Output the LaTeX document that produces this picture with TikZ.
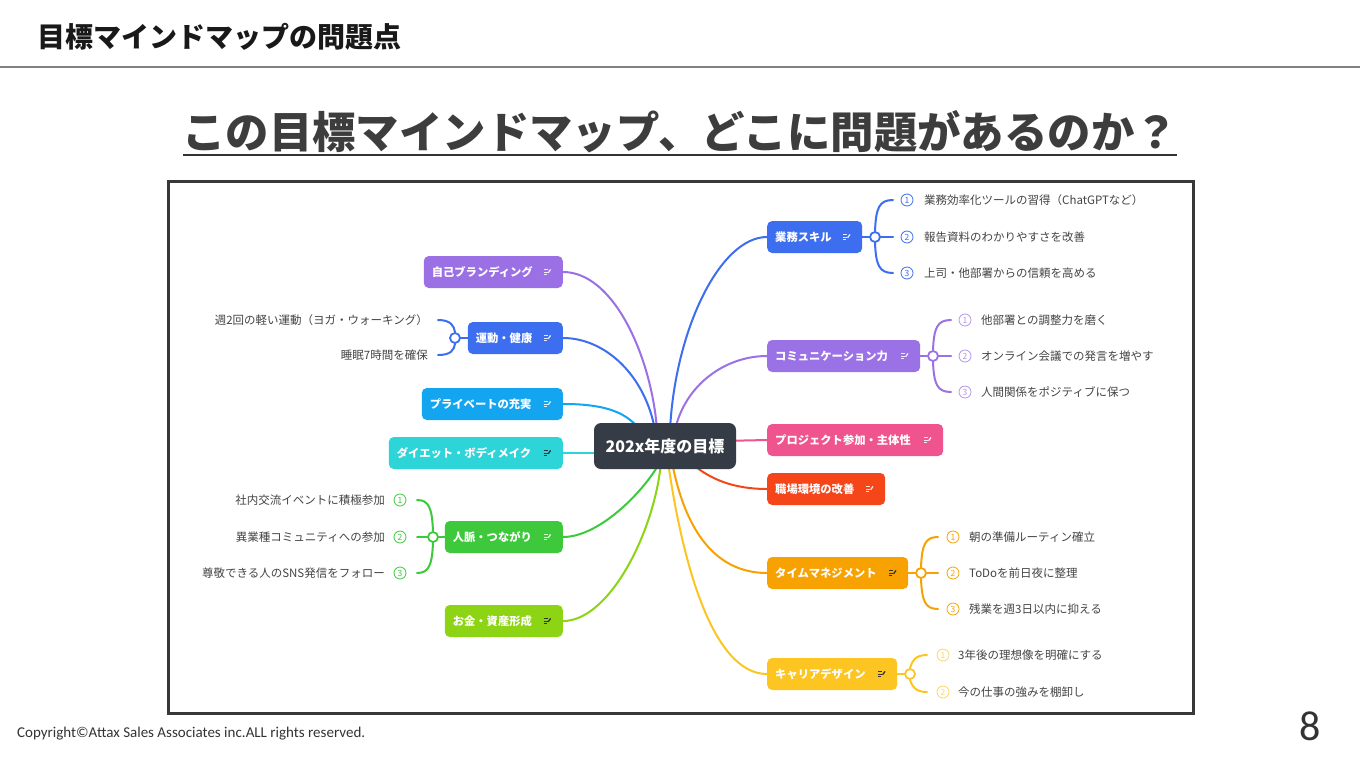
\documentclass[tikz,border=0pt]{standalone}
\usepackage{fontspec}
\setmainfont{Noto Sans CJK JP}
\newfontfamily\calfont{Carlito}
\usetikzlibrary{calc}
\pgfdeclarelayer{back}
\pgfdeclarelayer{bg}
\pgfsetlayers{back,bg,main}
\definecolor{cCtr}{HTML}{353C46}
\definecolor{cBrand}{HTML}{9C70E5}
\definecolor{cBlue}{HTML}{3D6EF0}
\definecolor{cPriv}{HTML}{14A5F0}
\definecolor{cDiet}{HTML}{2DD4D8}
\definecolor{cGreen}{HTML}{3EC93C}
\definecolor{cLime}{HTML}{8CD414}
\definecolor{cComm}{HTML}{9B72E6}
\definecolor{cPink}{HTML}{F0548E}
\definecolor{cRed}{HTML}{F5461A}
\definecolor{cOrange}{HTML}{F7A200}
\definecolor{cYellow}{HTML}{FCC521}
\definecolor{txtgray}{HTML}{444444}
\definecolor{dark}{HTML}{333333}
\begin{document}
\begin{tikzpicture}[x=1pt,y=-1pt,
  box/.style={rounded corners=5pt, minimum height=32pt, inner xsep=8pt, inner ysep=0pt,
    text=white, font=\fontsize{11.3}{12}\selectfont\bfseries, align=left},
  sub/.style={font=\fontsize{11.5}{12}\selectfont, text=txtgray, inner sep=0pt},
  num/.style={circle, draw, line width=0.8pt, minimum size=12pt, inner sep=0pt, font=\fontsize{8.5}{8.5}\selectfont},
  link/.style={line width=2pt, line cap=round},
  jn/.style={circle, draw, fill=white, line width=1.8pt, minimum size=10pt, inner sep=0pt},
  ico/.pic={\draw[line width=0.8pt] (-3.5,-2.5)--(1,-2.5) (-3.5,0)--(1,0) (-3.5,2.5)--(0,2.5);
            \draw[line width=1.3pt] (1.2,0.8)--(3.6,-2.6);}
]
\useasboundingbox (0,0) rectangle (1360,766);
\begin{pgfonlayer}{back}
\fill[white] (0,0) rectangle (1360,766);
\end{pgfonlayer}

% header
\node[anchor=west, inner sep=0pt, font=\fontsize{28}{28}\selectfont\bfseries, text=black!90] (ttl) at (37,37) {目標マインドマップの問題点};
\draw[line width=1.5pt, black!50] (0,67) -- (1360,67);
\node[inner sep=0pt, font=\fontsize{43.4}{44}\selectfont\bfseries, text=dark!95] (hl) at (680,132) {この目標マインドマップ、どこに問題があるのか？};
\draw[line width=2pt, dark] (183,155) -- (1177,155);

% frame
\draw[line width=3pt, black!78] (168,181) rectangle (1193,713);

% center
\node[fill=cCtr, rounded corners=7pt, minimum width=142pt, minimum height=46pt, inner sep=0pt,
  text=white, font=\fontsize{16}{16}\selectfont\bfseries] (ctr) at (665,446) {202x年度の目標};

% left nodes
\node[box, fill=cBrand, text width=123pt, anchor=east] (brand) at (563,272) {自己ブランディング};
\node[box, fill=cBlue, text width=79pt, anchor=east] (undo) at (563,338) {運動・健康};
\node[box, fill=cPriv, text width=125pt, anchor=east] (priv) at (563,404) {プライベートの充実};
\node[box, fill=cDiet, text width=158pt, anchor=east] (diet) at (563,453) {ダイエット・ボディメイク};
\node[box, fill=cGreen, text width=102pt, anchor=east] (jin) at (563,537) {人脈・つながり};
\node[box, fill=cLime, text width=102pt, anchor=east] (okane) at (563,621) {お金・資産形成};
% right nodes
\node[box, fill=cBlue, text width=79pt, anchor=west] (gyomu) at (767,237) {業務スキル};
\node[box, fill=cComm, text width=137pt, anchor=west] (comm) at (767,356) {コミュニケーション力};
\node[box, fill=cPink, text width=160pt, anchor=west] (proj) at (767,440) {プロジェクト参加・主体性};
\node[box, fill=cRed, text width=102pt, anchor=west] (shoku) at (767,489) {職場環境の改善};
\node[box, fill=cOrange, text width=125pt, anchor=west] (time) at (767,573) {タイムマネジメント};
\node[box, fill=cYellow, text width=114pt, anchor=west] (career) at (767,674) {キャリアデザイン};

% icons
\foreach \n in {brand,undo,priv,jin,gyomu,comm,proj,shoku}
  \pic[white, opacity=0.85] at ($(\n.east)+(-16,0)$) {ico};
\foreach \n in {diet,okane,time,career}
  \pic[dark] at ($(\n.east)+(-16,0)$) {ico};

% junctions
\node[jn, draw=cBlue] (jg) at (875,237) {};
\node[jn, draw=cComm] (jc) at (933,356) {};
\node[jn, draw=cOrange] (jt) at (921,573) {};
\node[jn, draw=cYellow] (jk) at (910,674) {};
\node[jn, draw=cBlue] (ju) at (455,338) {};
\node[jn, draw=cGreen] (jj) at (433,537) {};

% branch end coordinates
\coordinate (g1) at (893,200); \coordinate (g2) at (893,237); \coordinate (g3) at (893,273);
\coordinate (c1) at (951,320); \coordinate (c2) at (951,356); \coordinate (c3) at (951,392);
\coordinate (t1) at (938,537); \coordinate (t2) at (938,573); \coordinate (t3) at (938,609);
\coordinate (k1) at (927,655); \coordinate (k2) at (927,692);
\coordinate (u1) at (438,320); \coordinate (u2) at (438,355);
\coordinate (n1) at (417,500); \coordinate (n2) at (417,537); \coordinate (n3) at (417,573);

% items right
\node[num, draw=cBlue, text=cBlue] (g1n) at (907,200) {1};
\node[num, draw=cBlue, text=cBlue] (g2n) at (907,237) {2};
\node[num, draw=cBlue, text=cBlue] (g3n) at (907,273) {3};
\node[sub, anchor=west] (g1t) at (924,200) {業務効率化ツールの習得（ChatGPTなど）};
\node[sub, anchor=west] (g2t) at (924,237) {報告資料のわかりやすさを改善};
\node[sub, anchor=west] (g3t) at (924,273) {上司・他部署からの信頼を高める};
\node[num, draw=cComm!75, text=cComm!75] (c1n) at (965,320) {1};
\node[num, draw=cComm!75, text=cComm!75] (c2n) at (965,356) {2};
\node[num, draw=cComm!75, text=cComm!75] (c3n) at (965,392) {3};
\node[sub, anchor=west] (c1t) at (981,320) {他部署との調整力を磨く};
\node[sub, anchor=west] (c2t) at (981,356) {オンライン会議での発言を増やす};
\node[sub, anchor=west] (c3t) at (981,392) {人間関係をポジティブに保つ};
\node[num, draw=cOrange, text=cOrange] (t1n) at (953,537) {1};
\node[num, draw=cOrange, text=cOrange] (t2n) at (953,573) {2};
\node[num, draw=cOrange, text=cOrange] (t3n) at (953,609) {3};
\node[sub, anchor=west] (t1t) at (969,537) {朝の準備ルーティン確立};
\node[sub, anchor=west] (t2t) at (969,573) {ToDoを前日夜に整理};
\node[sub, anchor=west] (t3t) at (969,609) {残業を週3日以内に抑える};
\node[num, draw=cYellow!70, text=cYellow!70] (k1n) at (943,655) {1};
\node[num, draw=cYellow!70, text=cYellow!70] (k2n) at (943,692) {2};
\node[sub, anchor=west] (k1t) at (958,655) {3年後の理想像を明確にする};
\node[sub, anchor=west] (k2t) at (958,692) {今の仕事の強みを棚卸し};
% items left
\node[sub, anchor=east] (u1t) at (428,320) {週2回の軽い運動（ヨガ・ウォーキング）};
\node[sub, anchor=east] (u2t) at (428,355) {睡眠7時間を確保};
\node[num, draw=cGreen, text=cGreen] (n1n) at (400,500) {1};
\node[num, draw=cGreen, text=cGreen] (n2n) at (400,537) {2};
\node[num, draw=cGreen, text=cGreen] (n3n) at (400,573) {3};
\node[sub, anchor=east] (n1t) at (385,500) {社内交流イベントに積極参加};
\node[sub, anchor=east] (n2t) at (385,537) {異業種コミュニティへの参加};
\node[sub, anchor=east] (n3t) at (385,573) {尊敬できる人のSNS発信をフォロー};

% footer
\node[anchor=west, inner sep=0pt, font=\calfont\fontsize{15}{15}\selectfont, text=dark] (copy) at (17,734) {Copyright©Attax Sales Associates inc.ALL rights reserved.};
\node[inner sep=0pt, font=\calfont\fontsize{42}{42}\selectfont, text=dark] (pg) at (1310,726) {8};

% connector endpoints at centre
\coordinate (eBrand) at (657,430); \coordinate (eUndo) at (655,430);
\coordinate (ePriv) at (640,430); \coordinate (eDiet) at (600,453);
\coordinate (eJin) at (660,462); \coordinate (eOk) at (661,462);
\coordinate (eGy) at (670,430); \coordinate (eCo) at (675,430);
\coordinate (ePr) at (720,441); \coordinate (eSh) at (690,462);
\coordinate (eTi) at (672,462); \coordinate (eCa) at (668,462);

\begin{pgfonlayer}{bg}
\draw[link, cBrand] (brand.east) .. controls (615,272) and (652,360) .. (eBrand);
\draw[link, cBlue] (undo.east) .. controls (605,338) and (645,375) .. (eUndo);
\draw[link, cPriv] (priv.east) .. controls (600,404) and (625,410) .. (ePriv);
\draw[link, cDiet] (diet.east) -- (eDiet);
\draw[link, cGreen] (jin.east) .. controls (600,537) and (645,490) .. (eJin);
\draw[link, cLime] (okane.east) .. controls (610,621) and (655,530) .. (eOk);
\draw[link, cBlue] (gyomu.west) .. controls (720,237) and (675,330) .. (eGy);
\draw[link, cComm] (comm.west) .. controls (725,356) and (685,385) .. (eCo);
\draw[link, cPink] (proj.west) -- (ePr);
\draw[link, cRed] (shoku.west) .. controls (735,489) and (710,480) .. (eSh);
\draw[link, cOrange] (time.west) .. controls (715,573) and (685,530) .. (eTi);
\draw[link, cYellow] (career.west) .. controls (712,674) and (682,560) .. (eCa);
% sub branches
\draw[link, cBlue] (gyomu.east) -- (jg);
\draw[link, cBlue] (jg.north) .. controls (876,208) and (879,200) .. (g1);
\draw[link, cBlue] (jg.east) -- (g2);
\draw[link, cBlue] (jg.south) .. controls (876,265) and (879,273) .. (g3);
\draw[link, cComm] (comm.east) -- (jc);
\draw[link, cComm] (jc.north) .. controls (934,328) and (937,320) .. (c1);
\draw[link, cComm] (jc.east) -- (c2);
\draw[link, cComm] (jc.south) .. controls (934,384) and (937,392) .. (c3);
\draw[link, cOrange] (time.east) -- (jt);
\draw[link, cOrange] (jt.north) .. controls (922,545) and (925,537) .. (t1);
\draw[link, cOrange] (jt.east) -- (t2);
\draw[link, cOrange] (jt.south) .. controls (922,601) and (925,609) .. (t3);
\draw[link, cYellow] (career.east) -- (jk);
\draw[link, cYellow] (jk.north) .. controls (912,661) and (915,655) .. (k1);
\draw[link, cYellow] (jk.south) .. controls (912,686) and (915,692) .. (k2);
\draw[link, cBlue] (undo.west) -- (ju);
\draw[link, cBlue] (ju.north) .. controls (454,326) and (451,320) .. (u1);
\draw[link, cBlue] (ju.south) .. controls (454,350) and (451,355) .. (u2);
\draw[link, cGreen] (jin.west) -- (jj);
\draw[link, cGreen] (jj.north) .. controls (432,508) and (429,500) .. (n1);
\draw[link, cGreen] (jj.west) -- (n2);
\draw[link, cGreen] (jj.south) .. controls (432,565) and (429,573) .. (n3);
\end{pgfonlayer}
\end{tikzpicture}
\end{document}
